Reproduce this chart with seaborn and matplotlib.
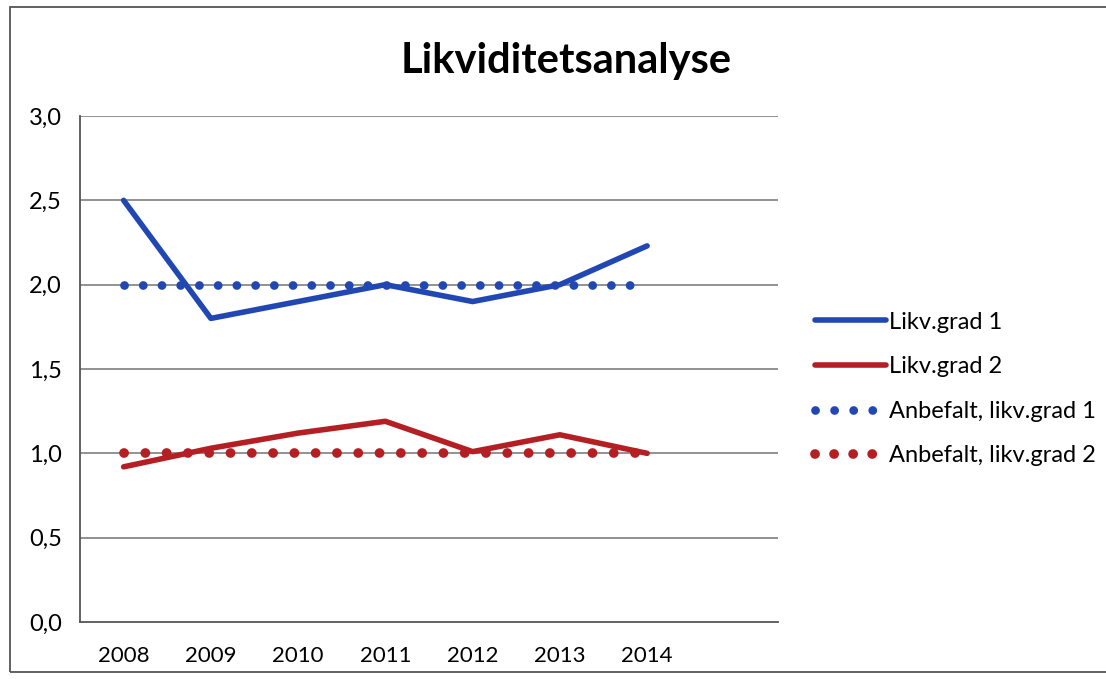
import matplotlib
matplotlib.use('Agg')
import matplotlib.pyplot as plt
from matplotlib.lines import Line2D
from matplotlib.patches import Rectangle
from matplotlib.ticker import FuncFormatter
import seaborn as sns
import pandas as pd

# data
years = ['2008', '2009', '2010', '2011', '2012', '2013', '2014']
likv_grad_1 = [2.50, 1.80, 1.90, 2.00, 1.90, 2.00, 2.23]
likv_grad_2 = [0.92, 1.03, 1.12, 1.19, 1.01, 1.11, 1.00]
anbefalt_1 = [2.0, 2.0, 2.0, 2.0, 2.0, 2.0, 2.0]
anbefalt_2 = [1.0, 1.0, 1.0, 1.0, 1.0, 1.0, 1.0]

series_names = ['Likv.grad 1', 'Likv.grad 2',
                'Anbefalt, likv.grad 1', 'Anbefalt, likv.grad 2']

blue = '#2147b3'
red = '#b41f24'

sns.set_style('white')
plt.rcParams['font.family'] = ['Lato', 'DejaVu Sans']
plt.rcParams['text.color'] = 'black'

fig = plt.figure(figsize=(11.06, 6.79), dpi=100)
ax = fig.add_axes([80 / 1106, 1 - 622 / 679, 698 / 1106, 506 / 679])

df = pd.DataFrame({'year': years * 4,
                   'value': likv_grad_1 + likv_grad_2 + anbefalt_1 + anbefalt_2,
                   'series': [s for s in series_names for _ in years]})

# gridlines first so the lines sit on top
for yv in [0.5, 1.0, 1.5, 2.0, 2.5, 3.0]:
    ax.axhline(yv, color='#7f7f7f', lw=1.2, zorder=1)

# dotted recommended levels
sns.lineplot(data=df[df['series'] == series_names[2]], x='year', y='value',
             ax=ax, color=blue, lw=6.3, sort=False, legend=False, zorder=3)
ax.lines[-1].set_linestyle((0, (0.01, 2.13)))
ax.lines[-1].set_dash_capstyle('round')
sns.lineplot(data=df[df['series'] == series_names[3]], x='year', y='value',
             ax=ax, color=red, lw=7, sort=False, legend=False, zorder=3)
ax.lines[-1].set_linestyle((0, (0.01, 2.18)))
ax.lines[-1].set_dash_capstyle('round')

# actual ratios
sns.lineplot(data=df[df['series'] == series_names[0]], x='year', y='value',
             ax=ax, color=blue, lw=4, sort=False, legend=False, zorder=4)
sns.lineplot(data=df[df['series'] == series_names[1]], x='year', y='value',
             ax=ax, color=red, lw=4, sort=False, legend=False, zorder=4)

ax.set_xlim(-0.5, 7.5)
ax.set_ylim(0, 3.0)
ax.set_yticks([0, 0.5, 1.0, 1.5, 2.0, 2.5, 3.0])
ax.yaxis.set_major_formatter(FuncFormatter(lambda v, p: f'{v:.1f}'.replace('.', ',')))
ax.set_xlabel('')
ax.set_ylabel('')
ax.tick_params(axis='both', length=0, labelsize=16, colors='black')
ax.tick_params(axis='y', labelsize=17, pad=13)
ax.tick_params(axis='x', pad=17)

for side in ['top', 'right']:
    ax.spines[side].set_visible(False)
ax.spines['left'].set_color('#555555')
ax.spines['left'].set_linewidth(1.3)
ax.spines['bottom'].set_color('#555555')
ax.spines['bottom'].set_linewidth(1.3)

fig.text(566 / 1106, 1 - 61 / 679, 'Likviditetsanalyse', ha='center', va='center',
         fontsize=30, fontweight='bold', color='black')

handles = [
    Line2D([], [], color=blue, lw=4),
    Line2D([], [], color=red, lw=4),
    Line2D([], [], color=blue, lw=6.3, linestyle=(0, (0.01, 2.17)),
           dash_capstyle='round'),
    Line2D([], [], color=red, lw=7, linestyle=(0, (0.01, 1.95)),
           dash_capstyle='round'),
]
fig.legend(handles, series_names, loc='center left',
           bbox_to_anchor=(806 / 1106, 1 - 389 / 679), frameon=False,
           borderaxespad=0, fontsize=17, handlelength=3.0,
           handletextpad=0.1, labelspacing=1.0, labelcolor='black')

# outer chart frame
fig.patches.append(Rectangle((10 / 1106, 7 / 679), 1.2, 1 - 14 / 679,
                             transform=fig.transFigure, fill=False,
                             edgecolor='#555555', lw=1.3))

fig.savefig('out.png', dpi=100)
